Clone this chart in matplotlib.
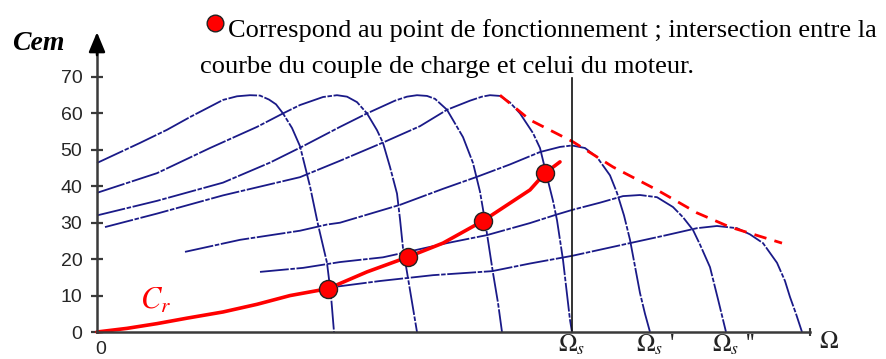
import matplotlib.pyplot as plt

plt.rcParams['mathtext.fontset'] = 'stix'
plt.rcParams['font.family'] = ['Liberation Serif', 'DejaVu Serif']

# Couple moteur Cem(Omega) pour plusieurs frequences d'alimentation
# (Omega en unites arbitraires, Cem en N.m)
w1 = [0, 43, 70, 93, 126, 140, 153, 163, 172, 179, 186, 195, 203, 213, 221, 230, 234, 237]
c1 = [46.4, 51.9, 55.5, 59, 63.7, 64.7, 65, 64.9, 63.8, 62.5, 60, 56, 51, 40, 29.5, 19, 10, 0]

w2 = [0, 60, 113, 160, 186, 203, 226, 240, 250, 260, 270, 280, 286, 293, 300, 303, 306, 313, 320]
c2 = [38.2, 43.6, 50.5, 56.3, 60, 62.3, 64.5, 65, 64.6, 63.1, 60, 55.4, 51.9, 45.3, 38, 31, 23, 11.5, 0]

w3 = [0, 60, 126, 173, 206, 243, 270, 298, 310, 320, 330, 338, 350, 366, 376, 383, 388, 396, 401, 405]
c3 = [32, 36, 41, 46.5, 51, 56.3, 60, 63.5, 64.6, 65, 64.8, 64, 61, 53.5, 46.4, 38.5, 30.5, 16.2, 8, 0]

w4 = [8, 60, 126, 203, 243, 286, 323, 350, 373, 385, 393, 403, 413, 423, 436, 443, 450, 456, 460, 466, 473, 475]
c4 = [28.8, 32.5, 37.5, 42.5, 47, 52, 56.5, 61, 63.5, 64.6, 65, 64.8, 63, 60, 54.6, 50.5, 42.6, 36, 30.7, 19.8, 3.3, 0]

w5 = [88, 143, 203, 230, 243, 303, 346, 380, 413, 443, 463, 475, 488, 500, 513, 520, 527, 533, 538, 543, 548, 553]
c5 = [22, 25.3, 27.8, 29.5, 30, 34.9, 39.3, 42.6, 46, 49.4, 50.8, 51.2, 50.5, 48, 43, 38.2, 32, 25.3, 18, 10.7, 5, 0]

w6 = [163, 206, 243, 286, 350, 390, 433, 458, 475, 503, 526, 543, 560, 576, 586, 596, 603, 613, 621, 629]
c6 = [16.5, 17.6, 19.2, 20.5, 24.4, 26.6, 29.9, 32.1, 33.5, 35.5, 37.3, 37.6, 37, 34.3, 31.5, 28, 24, 17.8, 9, 0]

w7 = [241, 283, 336, 395, 433, 475, 533, 568, 600, 620, 640, 653, 666, 680, 688, 693, 699, 705]
c7 = [12.5, 14, 15.6, 16.7, 18.8, 20.9, 24.4, 26.5, 28.5, 29.1, 28.5, 26.8, 24.4, 19, 14, 9.6, 5, 0]

# couple resistant de la charge
w_cr = [0, 30, 60, 90, 126, 160, 193, 231, 270, 311, 346, 386, 433, 448, 463]
cr = [0, 1.0, 2.3, 3.8, 5.5, 7.6, 10, 11.9, 16.5, 20.6, 24.4, 30.5, 39, 43.6, 46.7]

# points de fonctionnement
w_pf = [231, 311, 386, 448]
c_pf = [11.9, 20.6, 30.5, 43.6]

# enveloppe des couples maximaux (zone de defluxage)
w_env = [403, 433, 476, 516, 560, 600, 633, 685]
c_env = [65, 58.2, 52.2, 45.3, 39, 32.7, 28.8, 24.4]

omega_s = [475, 553, 629]
omega_labels = [r'$\Omega_s$', r"$\Omega_s$ '", r"$\Omega_s$ ''"]
y_ticks = [0, 10, 20, 30, 40, 50, 60, 70]

blue = '#1a1a88'
red = '#ff0000'

fig = plt.figure(figsize=(8.86, 3.59), dpi=100)
ax = fig.add_axes([0, 0, 1, 1])
ax.set_xlim(-97, 789)
ax.set_ylim(-7.41, 91.13)

for w, c in [(w1, c1), (w2, c2), (w3, c3), (w4, c4), (w5, c5), (w6, c6), (w7, c7)]:
    ax.plot(w, c, color=blue, lw=1.3, ls=(0, (16, 0.9, 2.5, 0.9)), solid_joinstyle='round')

ax.plot(w_env, c_env, color=red, lw=2.0, ls=(0, (4.5, 3)))
ax.plot(w_cr, cr, color=red, lw=2.6, solid_capstyle='round', solid_joinstyle='round')
ax.plot(w_pf, c_pf, 'o', ms=13, mfc=red, mec='#222222', mew=1.0, zorder=5)

# verticale a la vitesse de synchronisme nominale
ax.plot([omega_s[0], omega_s[0]], [0, 69.7], color='#111111', lw=1.2)

# axes
for side in ['top', 'right']:
    ax.spines[side].set_visible(False)
ax.spines['left'].set_position(('data', 0))
ax.spines['bottom'].set_position(('data', 0))
ax.spines['left'].set_bounds(0, 77.5)
ax.spines['bottom'].set_bounds(0, 713)
for side in ['left', 'bottom']:
    ax.spines[side].set_linewidth(1.8)
    ax.spines[side].set_color('#3a3a3a')

ax.set_yticks(y_ticks)
ax.set_yticklabels([str(v) for v in y_ticks], fontfamily='Liberation Sans',
                   fontsize=14, color='#262626')
ax.tick_params(axis='y', direction='inout', length=9, width=1.6,
               color='#3a3a3a', pad=6)
ax.set_xticks([])

ax.annotate('', xy=(0, 82.3), xytext=(0, 76),
            arrowprops=dict(arrowstyle='-|>,head_length=1.2,head_width=0.5',
                            color='black', lw=1.8, shrinkA=0, shrinkB=0))
ax.plot([713], [0], marker='|', ms=6, mew=1.5, color='#3a3a3a', clip_on=False)

ax.text(4, -2.5, '0', fontfamily='Liberation Sans', fontsize=14,
        color='#262626', ha='center', va='top')
for w, lbl in zip(omega_s, omega_labels):
    ax.text(w - 14, -5.5, lbl, fontsize=18, color='#222222', ha='left', va='baseline')
ax.text(722, -4.4, r'$\Omega$', fontsize=18, color='#222222', ha='left', va='baseline')

ax.text(-85, 77.5, 'Cem', fontsize=20, fontweight='bold', fontstyle='italic',
        ha='left', va='baseline')
ax.text(43, 6.5, r'$C_r$', fontsize=22, color=red, ha='left', va='baseline')

# legende du point de fonctionnement
ax.plot([117.5], [84.8], 'o', ms=12, mfc=red, mec='#222222', mew=1.0, clip_on=False)
ax.text(131, 81.0, 'Correspond au point de fonctionnement ; intersection entre la',
        fontsize=19, ha='left', va='baseline')
ax.text(103, 71.1, 'courbe du couple de charge et celui du moteur.',
        fontsize=19, ha='left', va='baseline')

fig.savefig('out.png', dpi=100)
